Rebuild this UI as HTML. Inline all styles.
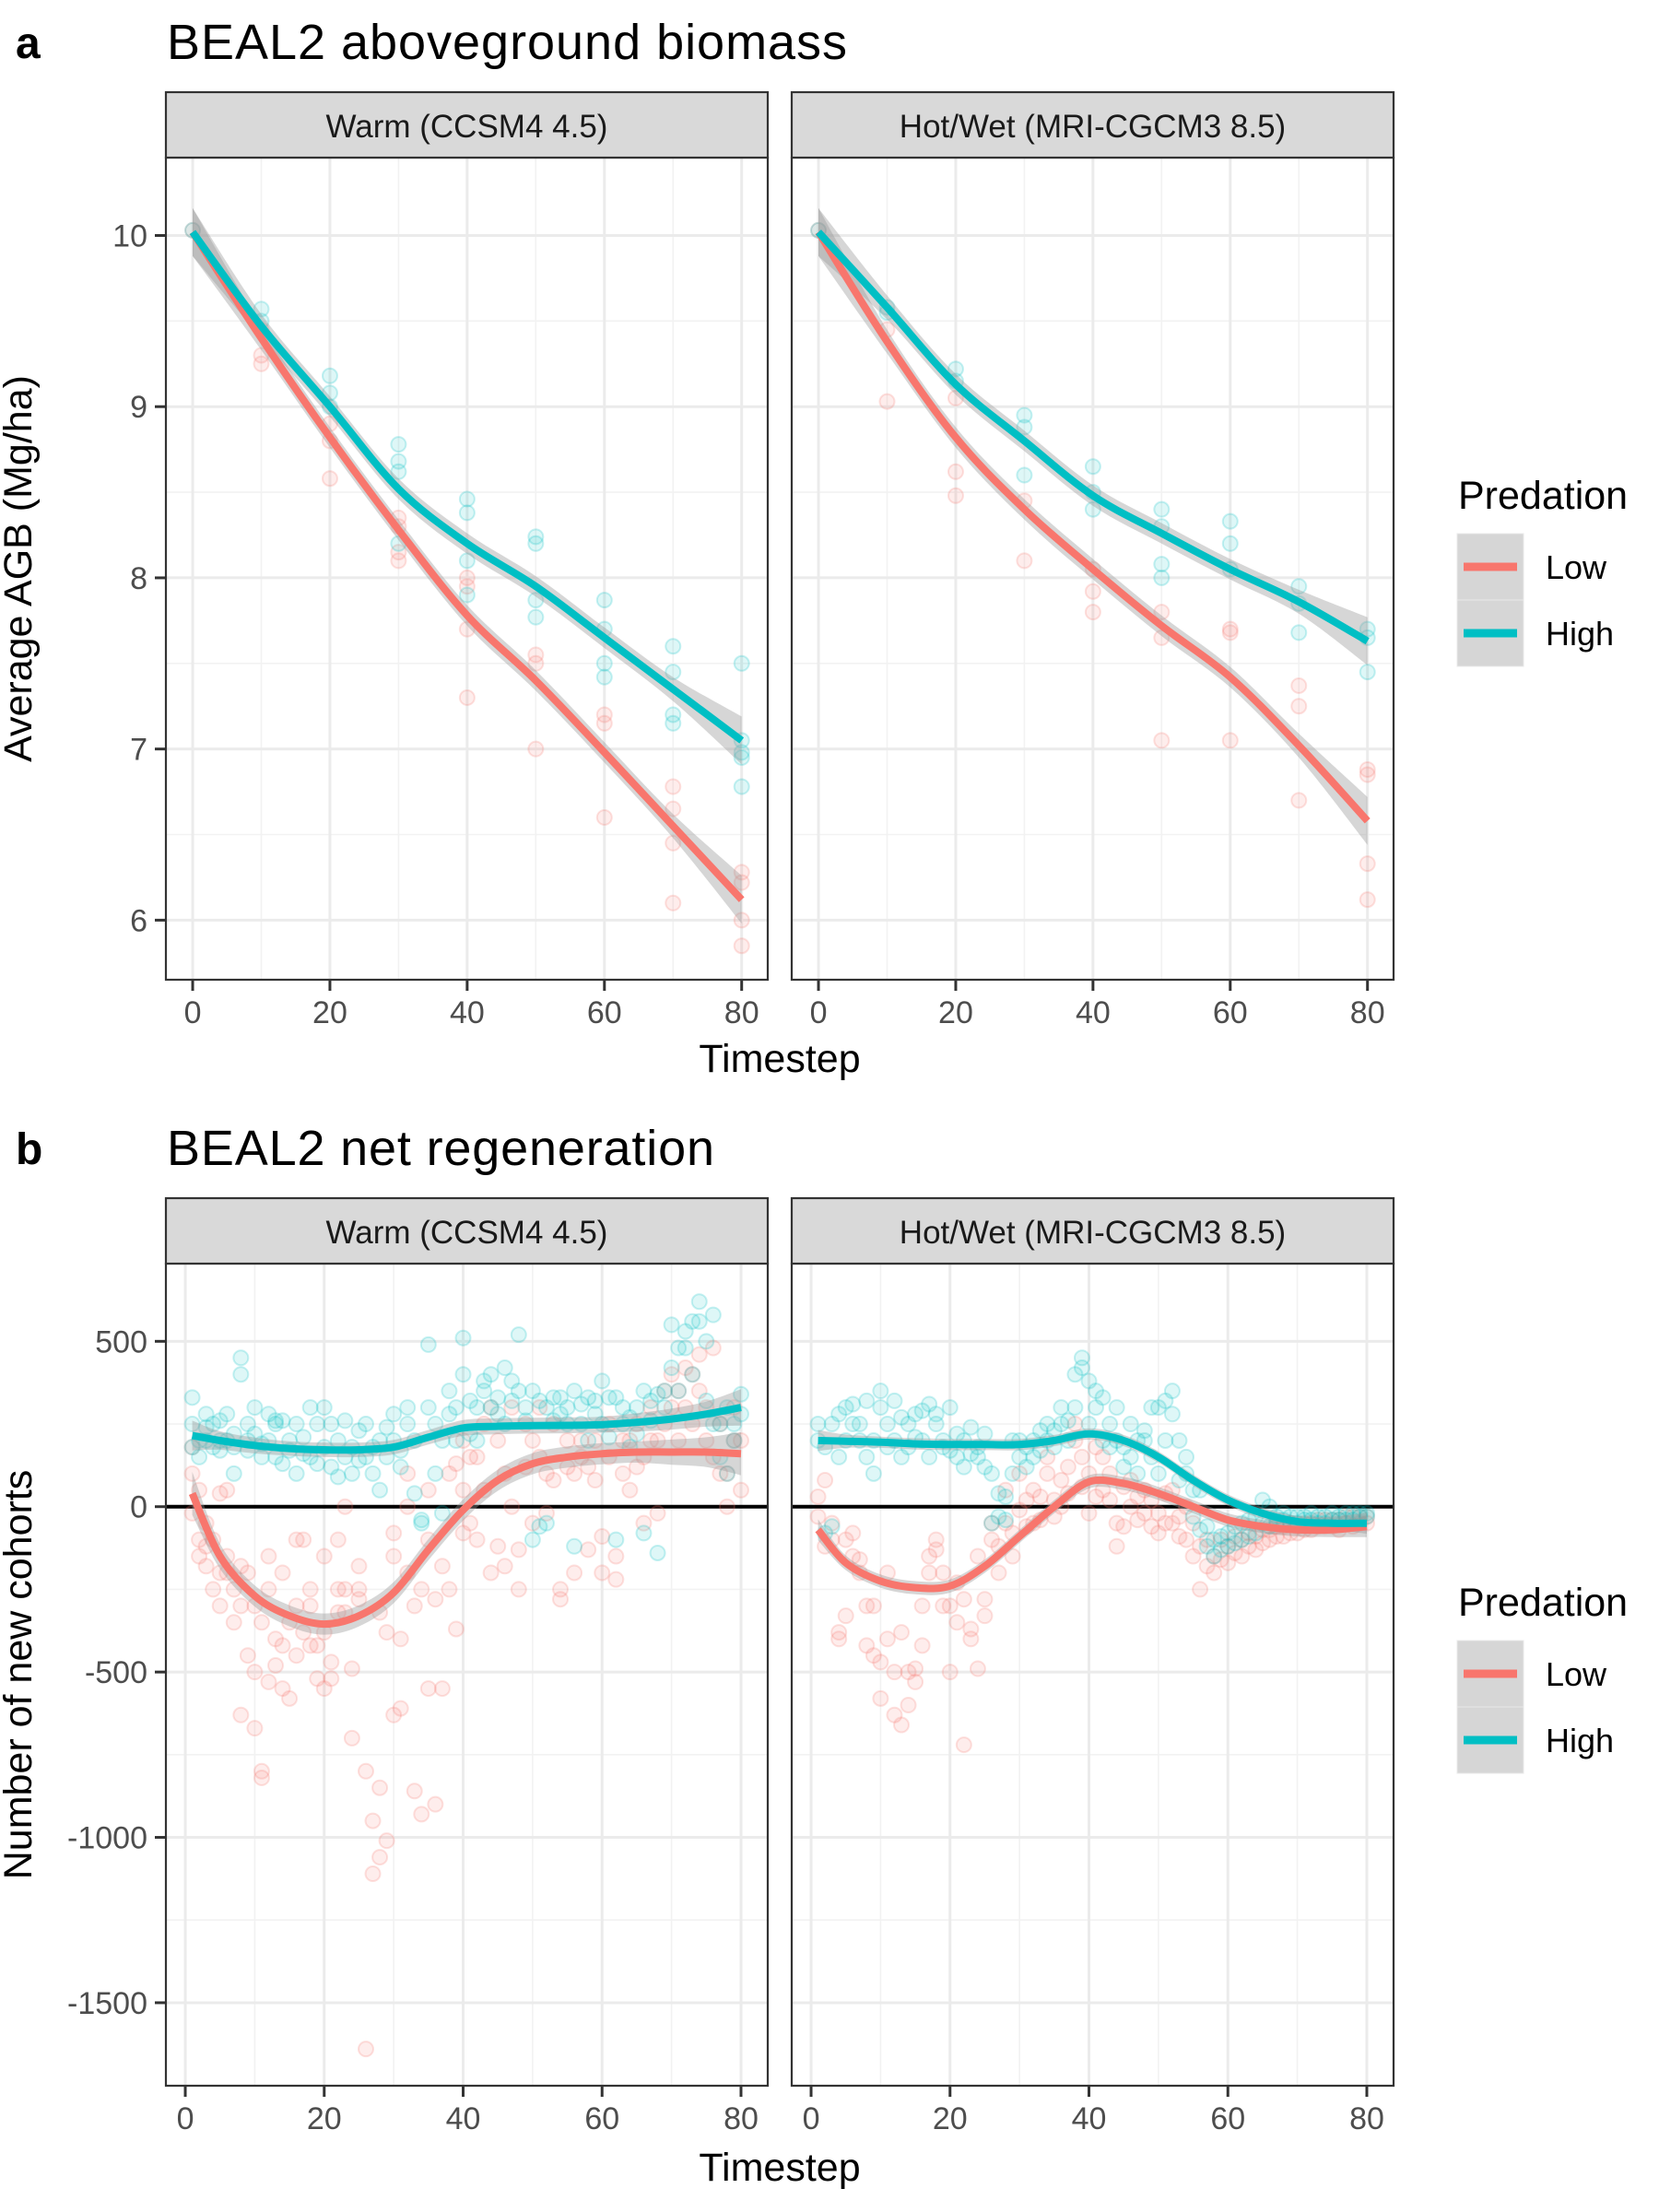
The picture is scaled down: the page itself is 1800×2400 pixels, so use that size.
<!DOCTYPE html>
<html><head><meta charset="utf-8">
<style>
html,body{margin:0;padding:0;background:#fff;}
svg{display:block;font-family:"Liberation Sans",Arial,sans-serif;}
</style></head>
<body>
<svg id="fig" width="1800" height="2400" viewBox="0 0 1800 2400" xmlns="http://www.w3.org/2000/svg">
<text x="17" y="63" font-size="48" font-weight="bold">a</text>
<text x="181" y="64" font-size="54" textLength="738">BEAL2 aboveground biomass</text>
<text x="17" y="1263" font-size="48" font-weight="bold">b</text>
<text x="181" y="1264" font-size="54" textLength="594">BEAL2 net regeneration</text>
<text x="846" y="1163" font-size="43" text-anchor="middle">Timestep</text>
<text x="846" y="2366" font-size="43" text-anchor="middle">Timestep</text>
<text transform="translate(34,617) rotate(-90)" font-size="43" text-anchor="middle">Average AGB (Mg/ha)</text>
<text transform="translate(34,1817) rotate(-90)" font-size="43" text-anchor="middle">Number of new cohorts</text>
<g id="plots"></g>
</svg>
<script>
// ---------- data ----------
const lineTimesTop = [0,10,20,30,40,50,60,70,80];
const warmLowAGB  = [10.02,9.40,8.82,8.28,7.78,7.40,6.98,6.55,6.12];
const warmHighAGB = [10.02,9.47,9.00,8.52,8.20,7.95,7.65,7.35,7.05];
const hotLowAGB   = [10.02,9.38,8.82,8.40,8.05,7.72,7.42,7.02,6.58];
const hotHighAGB  = [10.02,9.58,9.13,8.80,8.48,8.26,8.05,7.86,7.63];
const seTop = [0.14,0.07,0.06,0.06,0.06,0.06,0.06,0.07,0.14];

const warmLowAGBPts = [[0,10.03],[10,9.3,9.25,9.45],[20,8.58,8.8,8.9],[30,8.1,8.15,8.3,8.35],[40,7.3,7.7,7.95,8.0],[50,7.0,7.5,7.55],[60,6.6,7.15,7.2],[70,6.1,6.45,6.65,6.78],[80,5.85,6.0,6.22,6.28]];
const warmHighAGBPts = [[0,10.03],[10,9.5,9.57],[20,9.18,9.08,9.0],[30,8.78,8.68,8.62,8.2],[40,8.46,8.38,8.1,7.9],[50,8.24,8.2,7.87,7.77],[60,7.87,7.7,7.5,7.42],[70,7.6,7.45,7.2,7.15],[80,7.5,7.05,6.98,6.95,6.78]];
const hotLowAGBPts = [[0,10.03],[10,9.03,9.45],[20,8.48,8.62,9.05],[30,8.1,8.45],[40,7.8,7.92,8.05],[50,7.05,7.65,7.8],[60,7.05,7.68,7.7],[70,6.7,7.25,7.37],[80,6.12,6.33,6.85,6.88]];
const hotHighAGBPts = [[0,10.03],[10,9.58,9.55],[20,9.22,9.15],[30,8.95,8.88,8.6],[40,8.65,8.5,8.4],[50,8.4,8.3,8.08,8.0],[60,8.33,8.2,8.05],[70,7.95,7.85,7.68],[80,7.7,7.65,7.45]];

const lineTimesWarmBot = [1,5,10,15,20,25,30,35,40,45,50,55,60,65,70,75,80];
const warmLowReg  = [40,-150,-270,-330,-355,-330,-260,-130,-10,80,130,150,160,165,165,165,160];
const warmHighReg = [215,200,185,176,172,172,180,210,238,243,245,246,248,255,265,280,300];
const seWarmLow  = [65,38,32,32,32,32,32,32,32,32,32,32,32,32,38,45,65];
const seWarmHigh = [45,28,24,22,22,22,22,22,24,24,24,24,24,28,32,38,55];
const lineTimesHotBot = [1,5,10,15,20,25,30,35,40,45,50,55,60,65,70,75,80];
const hotLowReg  = [-70,-170,-225,-245,-240,-180,-90,0,75,70,40,0,-40,-60,-70,-70,-60];
const hotHighReg = [200,198,195,190,188,188,188,200,220,200,150,80,20,-20,-45,-50,-50];
const seHotLow  = [32,22,20,20,20,20,20,20,20,20,20,20,20,20,20,22,32];
const seHotHigh = [32,20,17,17,17,17,17,17,17,17,17,17,17,17,17,20,32];

const warmLowRegPts = [[1,100,180,-20],[2,-100,-150,50],[3,-180,-50,-120],[4,-100,-250],[5,-200,-300,40],[6,50,-150,-200],[7,-350,-250],[8,-300,-630,-180],[9,-200,-450],[10,-500,-300,-670],[11,-800,-820,-350],[12,-530,-250,-150],[13,-400,-480],[14,-420,-550,-200],[15,-580,-350],[16,-300,-450,-100],[17,-380,-100],[18,-300,-250,-420],[19,-520,-420],[20,-380,-550,-150],[21,-470,-520],[22,-320,-250,-100],[23,-250,-320,0],[24,-490,-700],[25,-250,-280,-180],[26,-1640,-800],[27,-1110,-950],[28,-1060,-850,-320],[29,-1010,-380],[30,-630,-150,-80],[31,-610,-400],[32,-200,0,100],[33,-860,-300],[34,-930,-250],[35,-550,-100,50],[36,-900,-280],[37,-550,-180],[38,-250,100],[39,-370,130],[40,50,200,-80],[41,150,-50],[42,-100,150],[43,250,50],[44,-200,300],[45,200,-120],[46,-180,100],[47,300,0],[48,-250,-130],[49,250,120],[50,-50,200],[51,300,150],[52,100,-20],[53,250,80],[54,-280,-250],[55,200,120],[56,-200,100],[57,150,200],[58,120,-130],[59,200,80],[60,-90,-200],[61,150,250],[62,-220,-150],[63,100,200],[64,50,200],[65,250,120],[66,150,-50],[67,200,300],[68,200,-20],[69,350,250],[70,300,400],[71,350,200],[72,420,300],[73,400,250],[74,460,350],[75,300,200],[76,480,150],[77,250,100],[78,0,100],[79,200,300],[80,200,50]];
const warmHighRegPts = [[1,330,250,180],[2,200,150],[3,280,200,240],[4,250,180],[5,200,170,260],[6,200,280],[7,180,100,220],[8,450,400],[9,250,200,170],[10,300,220],[11,190,150],[12,280,200],[13,250,150,260],[14,260,130],[15,200,170],[16,250,100],[17,160,210],[18,300,150],[19,250,130],[20,300,180],[21,250,120],[22,200,90],[23,150,260],[24,100,180],[25,230,140],[26,250,150],[27,180,100],[28,200,50],[29,150,240],[30,280,200],[31,170,120],[32,300,250],[33,200,40],[34,-50,-40],[35,490,300],[36,250,100],[37,200,-20],[38,350,280],[39,300,200],[40,510,400],[41,320,220],[42,300,200],[43,350,380],[44,400,300],[45,330,280],[46,420,250],[47,380,320],[48,520,350],[49,300,260],[50,350,-100],[51,320,-60],[52,300,-50],[53,330,260],[54,330,280],[55,300,250],[56,350,-120],[57,310,250],[58,330,200],[59,320,280],[60,380,250],[61,330,210],[62,330,-100],[63,300,250],[64,270,180],[65,300,220],[66,350,-80],[67,320,260],[68,-140,340],[69,350,300],[70,420,550],[71,480,350],[72,530,480],[73,560,400],[74,620,560],[75,500,320],[76,580,250],[77,250,150],[78,300,100],[79,250,200],[80,340,280]];
const hotLowRegPts = [[1,30,-30],[2,80,-120],[3,-50,-100],[4,-400,-380],[5,-330,-100],[6,-80,-150],[7,-200,-160],[8,-420,-300],[9,-300,-450],[10,-470,-580],[11,-200,-400],[12,-630,-500],[13,-660,-380],[14,-600,-500],[15,-490,-530],[16,-420,-300],[17,-200,-150],[18,-100,-130],[19,-200,-300],[20,-500,-300],[21,-230,-350],[22,-720,-280],[23,-370,-400],[24,-490,-150],[25,-280,-330],[26,-50,-100],[27,-120,-200],[28,-50,50],[29,-80,-150],[30,-10,100],[31,-60,20],[32,-50,50],[33,30,-40],[34,100,150],[35,20,-30],[36,0,80],[37,120,40],[38,200,250],[39,150,60],[40,100,-20],[41,180,30],[42,50,150],[43,20,100],[44,-50,-120],[45,60,-60],[46,80,0],[47,-40,30],[48,-20,50],[49,-60,20],[50,-80,-20],[51,40,-50],[52,-50,50],[53,-30,-90],[54,-100,0],[55,-50,-150],[56,-250,-120],[57,-100,-180],[58,-200,-150],[59,-160,-100],[60,-170,-120],[61,-140,-90],[62,-150,-100],[63,-120,-80],[64,-130,-90],[65,-110,-70],[66,-100,-70],[67,-90,-60],[68,-90,-60],[69,-80,-50],[70,-80,-60],[71,-70,-50],[72,-70,-50],[73,-60,-40],[74,-60,-40],[75,-60,-40],[76,-70,-40],[77,-50,-30],[78,-60,-30],[79,-50,-30],[80,-50,-30]];
const hotHighRegPts = [[1,250,200],[2,180,-80],[3,250,-60],[4,280,150],[5,300,200],[6,310,250],[7,250,200],[8,320,150],[9,200,100],[10,350,300],[11,250,180],[12,320,200],[13,270,150],[14,250,180],[15,210,280],[16,290,200],[17,310,150],[18,280,250],[19,200,180],[20,300,170],[21,220,150],[22,200,120],[23,160,240],[24,180,150],[25,220,120],[26,100,-50],[27,40,-30],[28,-40,30],[29,100,200],[30,150,200],[31,180,120],[32,200,150],[33,170,230],[34,250,200],[35,230,180],[36,300,250],[37,260,200],[38,400,300],[39,450,420],[40,380,250],[41,300,350],[42,330,200],[43,250,180],[44,300,200],[45,180,120],[46,250,150],[47,200,100],[48,200,230],[49,300,150],[50,300,100],[51,320,200],[52,350,280],[53,200,80],[54,150,100],[55,50,-30],[56,-70,50],[57,-120,-60],[58,-150,-100],[59,-130,-90],[60,-120,-80],[61,-110,-60],[62,-100,-50],[63,-90,-40],[64,-80,-30],[65,20,-50],[66,0,-60],[67,-50,-30],[68,-40,-20],[69,-50,-30],[70,-50,-30],[71,-40,-30],[72,-40,-20],[73,-50,-30],[74,-50,-30],[75,-40,-20],[76,-40,-30],[77,-40,-20],[78,-40,-20],[79,-30,-20],[80,-30,-20]];

const xTickLabels = ["0","20","40","60","80"];
const yTickTop = [6,7,8,9,10];
const yTickBot = [-1500,-1000,-500,0,500];
const stripLabels = ["Warm (CCSM4 4.5)","Hot/Wet (MRI-CGCM3 8.5)"];
const legendLabels = ["Low","High"];

// ---------- drawing ----------
const NS="http://www.w3.org/2000/svg";
const root=document.getElementById('plots');
const RED="#F8766D", TEAL="#00BFC4";
function mk(tag,attrs,parent){const e=document.createElementNS(NS,tag);for(const k in attrs)e.setAttribute(k,attrs[k]);(parent||root).appendChild(e);return e;}
function scale(d0,d1,r0,r1){return v=>r0+(v-d0)/(d1-d0)*(r1-r0);}
function smoothPath(pts){
  let d="M"+pts[0][0].toFixed(1)+","+pts[0][1].toFixed(1);
  for(let i=0;i<pts.length-1;i++){
    const p0=pts[Math.max(0,i-1)],p1=pts[i],p2=pts[i+1],p3=pts[Math.min(pts.length-1,i+2)];
    const c1=[p1[0]+(p2[0]-p0[0])/6,p1[1]+(p2[1]-p0[1])/6];
    const c2=[p2[0]-(p3[0]-p1[0])/6,p2[1]-(p3[1]-p1[1])/6];
    d+="C"+c1[0].toFixed(1)+","+c1[1].toFixed(1)+" "+c2[0].toFixed(1)+","+c2[1].toFixed(1)+" "+p2[0].toFixed(1)+","+p2[1].toFixed(1);
  }
  return d;
}
function smoothTail(pts){const d=smoothPath(pts);return "L"+d.slice(1);}

function panel(opt){
  const g=mk('g',{});
  
  
  const {x0,x1,y0,y1}=opt;
  const sx=scale(opt.xd[0],opt.xd[1],x0,x1), sy=scale(opt.yd[0],opt.yd[1],y1,y0);
  mk('rect',{x:x0,y:y0,width:x1-x0,height:y1-y0,fill:"#fff"},g);
  for(const v of [10,30,50,70]) mk('line',{x1:sx(v),x2:sx(v),y1:y0,y2:y1,stroke:"#F2F2F2","stroke-width":1.6},g);
  for(const v of opt.yMinor) mk('line',{x1:x0,x2:x1,y1:sy(v),y2:sy(v),stroke:"#F2F2F2","stroke-width":1.6},g);
  for(const v of [0,20,40,60,80]) mk('line',{x1:sx(v),x2:sx(v),y1:y0,y2:y1,stroke:"#EBEBEB","stroke-width":3},g);
  for(const v of opt.yTicks) mk('line',{x1:x0,x2:x1,y1:sy(v),y2:sy(v),stroke:"#EBEBEB","stroke-width":3},g);
  if(opt.zero){const z=mk('line',{x1:x0,x2:x1,y1:sy(0),y2:sy(0),stroke:"#000","stroke-width":4},g);}
  for(const s of opt.series){
    for(const row of s.pts){
      for(let j=1;j<row.length;j++){
        const c=mk('circle',{cx:sx(row[0]),cy:sy(row[j]),r:8,fill:s.color,"fill-opacity":0.13,stroke:s.color,"stroke-opacity":0.22,"stroke-width":2},g);
        
        
      }
    }
  }
  for(const s of opt.series){
    const up=s.t.map((t,i)=>[sx(t),sy(s.v[i]+s.se[i])]);
    const lo=s.t.map((t,i)=>[sx(t),sy(s.v[i]-s.se[i])]).reverse();
    const r=mk('path',{d:smoothPath(up)+smoothTail(lo)+"Z",fill:"#999","fill-opacity":0.4},g);
    
    
  }
  for(const s of opt.series){
    const p=mk('path',{d:smoothPath(s.t.map((t,i)=>[sx(t),sy(s.v[i])])),fill:"none",stroke:s.color,"stroke-width":8,"stroke-linecap":"butt"},g);
    
    
  }
  mk('rect',{x:x0,y:y0,width:x1-x0,height:y1-y0,fill:"none",stroke:"#333","stroke-width":2.2},g);
  const st=mk('rect',{x:x0,y:opt.sy0,width:x1-x0,height:y0-opt.sy0,fill:"#D9D9D9",stroke:"#333","stroke-width":2.2},g);
  
  
  const stt=mk('text',{x:(x0+x1)/2,y:opt.sy0+49,"font-size":35,fill:"#1A1A1A","text-anchor":"middle"},g);
  stt.textContent=opt.strip;
  
  
  xTickLabels.forEach(l=>{
    const v=+l;
    mk('line',{x1:sx(v),x2:sx(v),y1:y1,y2:y1+12,stroke:"#333","stroke-width":3},g);
    const t=mk('text',{x:sx(v),y:y1+47,"font-size":34,fill:"#4D4D4D","text-anchor":"middle"},g);
    t.textContent=l;
    
    
  });
  if(opt.showY){
    opt.yTicks.forEach(v=>{
      mk('line',{x1:x0-12,x2:x0,y1:sy(v),y2:sy(v),stroke:"#333","stroke-width":3},g);
      const t=mk('text',{x:x0-20,y:sy(v)+12,"font-size":34,fill:"#4D4D4D","text-anchor":"end"},g);
      t.textContent=String(v);
      
      
    });
  }
}
const topY=[171,1063], botY=[1371,2263];
const cols=[[180,833],[859,1512]];
const xdTop=[-3.9,83.8], xdBot=[-2.79,83.85];
const ydTop=[5.652,10.455], ydBot=[-1751,735];
panel({name:"panel-biomass-warm",x0:cols[0][0],x1:cols[0][1],y0:topY[0],y1:topY[1],sy0:100,xd:xdTop,yd:ydTop,yTicks:yTickTop,yMinor:[6.5,7.5,8.5,9.5],showY:true,strip:stripLabels[0],
 series:[{label:"low",color:RED,t:lineTimesTop,v:warmLowAGB,se:seTop,pts:warmLowAGBPts},{label:"high",color:TEAL,t:lineTimesTop,v:warmHighAGB,se:seTop,pts:warmHighAGBPts}]});
panel({name:"panel-biomass-hot",x0:cols[1][0],x1:cols[1][1],y0:topY[0],y1:topY[1],sy0:100,xd:xdTop,yd:ydTop,yTicks:yTickTop,yMinor:[6.5,7.5,8.5,9.5],showY:false,strip:stripLabels[1],
 series:[{label:"low",color:RED,t:lineTimesTop,v:hotLowAGB,se:seTop,pts:hotLowAGBPts},{label:"high",color:TEAL,t:lineTimesTop,v:hotHighAGB,se:seTop,pts:hotHighAGBPts}]});
panel({name:"panel-regen-warm",x0:cols[0][0],x1:cols[0][1],y0:botY[0],y1:botY[1],sy0:1300,xd:xdBot,yd:ydBot,yTicks:yTickBot,yMinor:[-1250,-750,-250,250],showY:true,zero:true,strip:stripLabels[0],
 series:[{label:"low",color:RED,t:lineTimesWarmBot,v:warmLowReg,se:seWarmLow,pts:warmLowRegPts},{label:"high",color:TEAL,t:lineTimesWarmBot,v:warmHighReg,se:seWarmHigh,pts:warmHighRegPts}]});
panel({name:"panel-regen-hot",x0:cols[1][0],x1:cols[1][1],y0:botY[0],y1:botY[1],sy0:1300,xd:xdBot,yd:ydBot,yTicks:yTickBot,yMinor:[-1250,-750,-250,250],showY:false,zero:true,strip:stripLabels[1],
 series:[{label:"low",color:RED,t:lineTimesHotBot,v:hotLowReg,se:seHotLow,pts:hotLowRegPts},{label:"high",color:TEAL,t:lineTimesHotBot,v:hotHighReg,se:seHotHigh,pts:hotHighRegPts}]});

function legend(y){
  const g=mk('g',{});
  
  
  const t=mk('text',{x:1582,y:y-27,"font-size":43,fill:"#000"},g);
  t.textContent="Predation";
  [RED,TEAL].forEach((c,i)=>{
    const ky=y+i*72;
    mk('rect',{x:1581,y:ky,width:72,height:72,fill:"#D6D6D6",stroke:"#E8E8E8","stroke-width":1},g);
    mk('line',{x1:1588,x2:1646,y1:ky+36,y2:ky+36,stroke:c,"stroke-width":9},g);
    const lt=mk('text',{x:1677,y:ky+49,"font-size":36,fill:"#000"},g);
    lt.textContent=legendLabels[i];
    
    
  });
}
legend(579);
legend(1780);
</script>
</body></html>
